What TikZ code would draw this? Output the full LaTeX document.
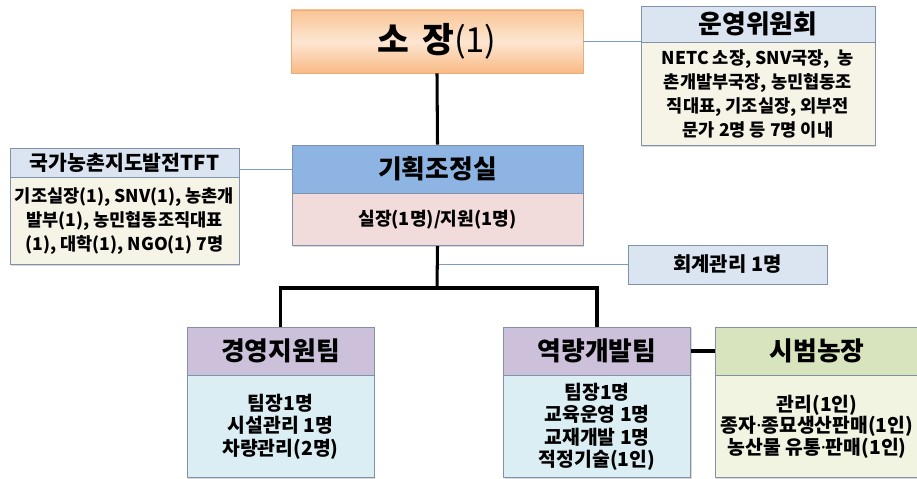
\documentclass[tikz,border=0pt]{standalone}
\usepackage{fontspec}
\setmainfont{Noto Sans CJK KR}
\newfontfamily\dotfont{Noto Sans}
\usetikzlibrary{positioning,shadows}

\newdimen\pxu
\pxu=0.03cm

\definecolor{soTop}{RGB}{249,196,148}
\definecolor{soMid}{RGB}{253,230,210}
\definecolor{soBot}{RGB}{248,186,132}
\definecolor{soRim}{RGB}{232,172,125}
\definecolor{paleBlue}{RGB}{219,229,241}
\definecolor{beige}{RGB}{246,243,231}
\definecolor{midBlue}{RGB}{141,180,226}
\definecolor{rose}{RGB}{242,220,219}
\definecolor{lavender}{RGB}{204,192,218}
\definecolor{iceBlue}{RGB}{219,238,244}
\definecolor{sage}{RGB}{215,228,189}
\definecolor{cream}{RGB}{240,244,224}
\definecolor{rim}{RGB}{128,145,170}
\definecolor{link}{RGB}{125,155,190}

\begin{document}
\begin{tikzpicture}
  [x=0.03cm, y=-0.03cm,
   box/.style={draw=rim, line width=0.6pt, inner sep=1pt, align=center,
     drop shadow={shadow xshift=1.2pt, shadow yshift=-1.2pt, opacity=0.3}},
   ttl/.style={font=\fontsize{22}{26}\selectfont\bfseries},
   txt/.style={font=\fontsize{15}{20.4}\selectfont\bfseries},
   team/.style={font=\fontsize{16.5}{19}\selectfont\bfseries},
   main/.style={line width=2.6pt},
   aside/.style={line width=0.8pt, draw=link}]
  \useasboundingbox (0,0) rectangle (917,479);

  \node[box, top color=soTop, bottom color=soBot, middle color=soMid, draw=soRim,
    minimum width=292\pxu, minimum height=63\pxu,
    font=\fontsize{29.5}{34}\selectfont] (soBox) at (437,41.5) {\textbf{소\hspace{0.15em} 장}(1)};

  \node[box, ttl, fill=paleBlue, minimum width=234\pxu, minimum height=36\pxu] (unHead) at (758,24) {운영위원회};
  \node[box, txt, fill=beige, minimum width=234\pxu, minimum height=103\pxu, below=0pt of unHead] (unBody)
    {NETC 소장, SNV국장,~ 농\\촌개발부국장, 농민협동조\\직대표, 기조실장, 외부전\\문가 2명 등 7명 이내};

  \node[box, ttl, fill=midBlue, minimum width=291\pxu, minimum height=48\pxu] (ghHead) at (437.5,169) {기획조정실};
  \node[box, font=\fontsize{15.5}{20}\selectfont\bfseries, fill=rose, minimum width=291\pxu, minimum height=52\pxu, below=0pt of ghHead] (ghBody) {실장(1명)/지원(1명)};

  \node[box, font=\fontsize{17.5}{20}\selectfont\bfseries, fill=paleBlue, minimum width=229\pxu, minimum height=29\pxu] (tftHead) at (124.5,162.5) {국가농촌지도발전TFT};
  \node[box, txt, fill=beige, minimum width=229\pxu, minimum height=87\pxu, below=0pt of tftHead] (tftBody)
    {기조실장(1), SNV(1), 농촌개\\발부(1), 농민협동조직대표\\(1), 대학(1), NGO(1) 7명};

  \node[box, font=\fontsize{17}{20}\selectfont\bfseries, fill=paleBlue, minimum width=199\pxu, minimum height=39\pxu] (hgBox) at (727.5,264.5) {회계관리 1명};

  \foreach \n/\x/\t in {ky/280.5/경영지원팀, ry/597/역량개발팀}{
    \node[box, ttl, fill=lavender, minimum width=187\pxu, minimum height=48\pxu] (\n Head) at (\x,351) {\t};
  }
  \node[box, team, fill=iceBlue, minimum width=187\pxu, minimum height=102\pxu, below=0pt of kyHead] (kyBody)
    {팀장1명\\시설관리 1명\\차량관리(2명)};
  \node[box, team, fill=iceBlue, minimum width=187\pxu, minimum height=102\pxu, below=0pt of ryHead] (ryBody)
    {팀장1명\\교육운영 1명\\교재개발 1명\\적정기술(1인)};

  \node[box, ttl, fill=sage, minimum width=204\pxu, minimum height=48\pxu] (sbHead) at (817,351) {시범농장};
  \node[box, font=\fontsize{16.5}{18.5}\selectfont\bfseries, fill=cream, minimum width=204\pxu, minimum height=102\pxu, below=0pt of sbHead] (sbBody)
    {관리(1인)\\종자{\dotfont·}종묘생산판매(1인)\\농산물 유통{\dotfont·}판매(1인)};

  \coordinate (bus) at (437,288);

  \draw[aside] (soBox.east) -- (soBox.east -| unHead.west);
  \draw[aside] (ghHead.west -| tftHead.east) -- (ghHead.west);
  \draw[aside] (ghBody.south |- hgBox.west) -- (hgBox.west);

  \draw[main] (soBox.south) -- (ghHead.north);
  \draw[main] (ghBody.south) -- (bus);
  \draw[main] (kyHead.north) |- (bus) -| (ryHead.north);
  \draw[main] (ryHead.east) -- (sbHead.west);

\end{tikzpicture}
\end{document}
